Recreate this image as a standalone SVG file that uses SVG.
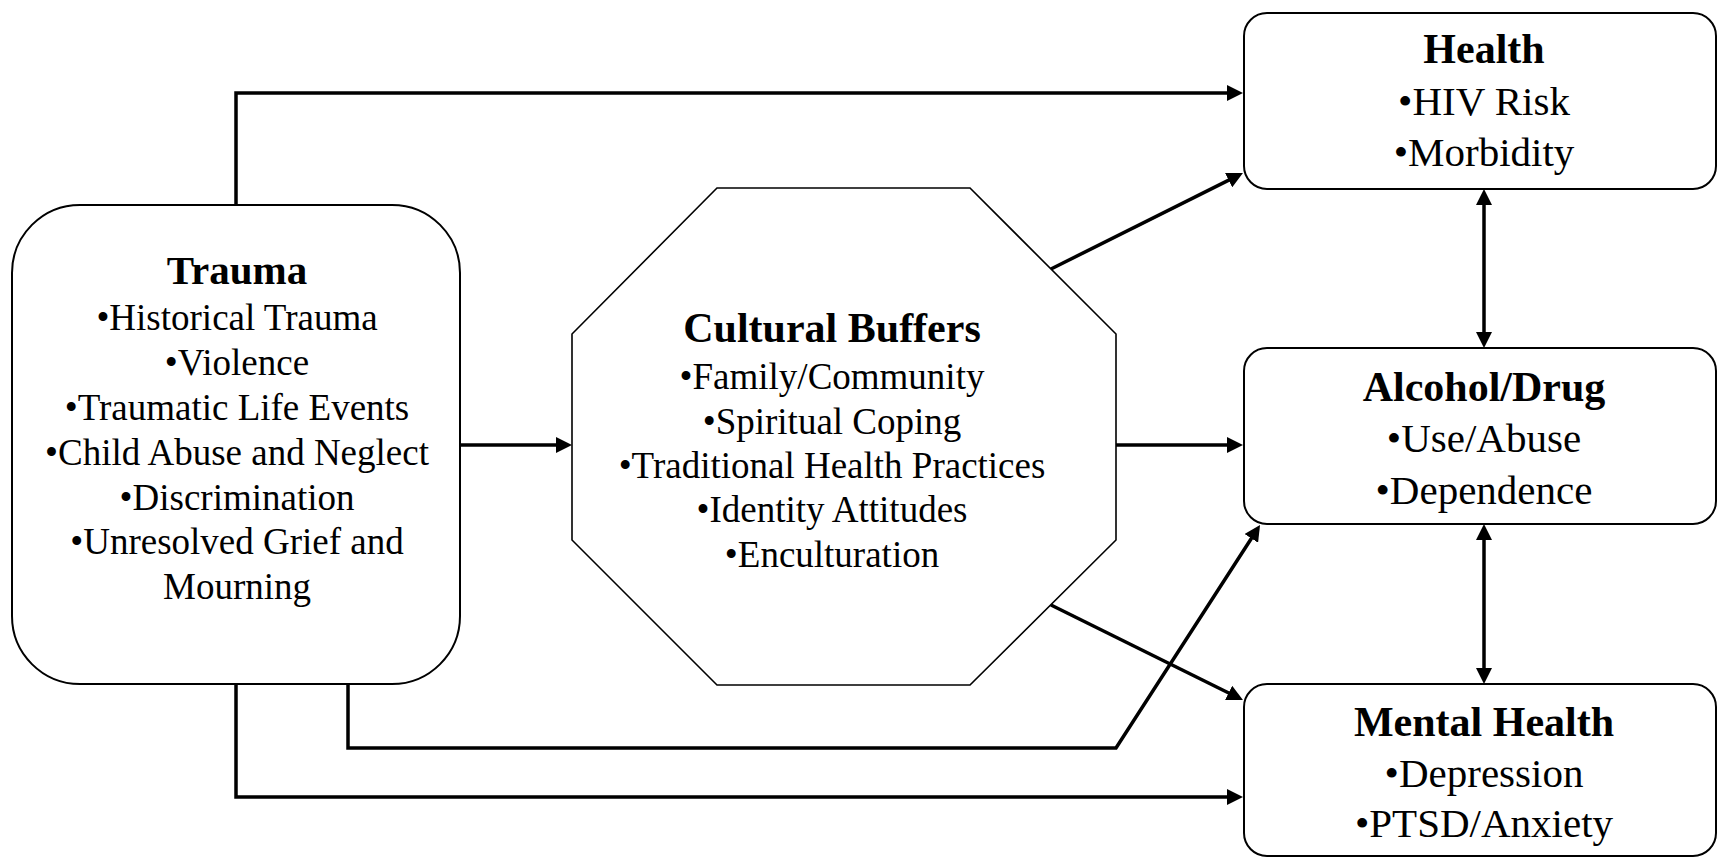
<svg xmlns="http://www.w3.org/2000/svg" width="1717" height="858" viewBox="0 0 1717 858">
<style>
.box{fill:#fff;stroke:#000;stroke-width:2}
.oct{fill:#fff;stroke:#000;stroke-width:1.6}
.conn{fill:none;stroke:#000;stroke-width:3.5;stroke-linejoin:miter}
text{font-family:"Liberation Serif","Times New Roman",serif;fill:#000;text-anchor:middle}
.t{font-weight:bold}
.l{font-size:37px}
.tl{font-size:41px}
.r{font-size:41px}
.tr{font-size:42px}
</style>
<defs>
<marker id="ah" markerUnits="userSpaceOnUse" markerWidth="16" markerHeight="16" refX="8" refY="8" orient="auto-start-reverse" viewBox="0 0 16 16">
<path d="M0,0 L16,8 L0,16 Z" fill="#000"/>
</marker>
</defs>
<rect width="1717" height="858" fill="#fff"/>
<g id="connectors">
<path class="conn" d="M236,205 V93 H1235" marker-end="url(#ah)"/>
<path class="conn" d="M460,445 H564" marker-end="url(#ah)"/>
<path class="conn" d="M1116,445 H1235" marker-end="url(#ah)"/>
<path class="conn" d="M1051,269 L1235.8,176.6" marker-end="url(#ah)"/>
<path class="conn" d="M1051,605 L1235.8,696.5" marker-end="url(#ah)"/>
<path class="conn" d="M348,684 V748 H1116 L1255.7,531.7" marker-end="url(#ah)"/>
<path class="conn" d="M236,684 V797 H1235" marker-end="url(#ah)"/>
<path class="conn" d="M1484,197 V340" marker-start="url(#ah)" marker-end="url(#ah)"/>
<path class="conn" d="M1484,532 V676" marker-start="url(#ah)" marker-end="url(#ah)"/>
</g>
<g id="trauma">
<rect class="box" x="12" y="205" width="448" height="479" rx="68" ry="68"/>
<text class="t tl" x="237" y="284">Trauma</text>
<text class="l" x="237" y="330">•Historical Trauma</text>
<text class="l" x="237" y="375">•Violence</text>
<text class="l" x="237" y="420">•Traumatic Life Events</text>
<text class="l" x="237" y="465">•Child Abuse and Neglect</text>
<text class="l" x="237" y="510">•Discrimination</text>
<text class="l" x="237" y="554">•Unresolved Grief and</text>
<text class="l" x="237" y="599">Mourning</text>
</g>
<g id="cultural-buffers">
<polygon class="oct" points="717,188 970,188 1116,334 1116,540 970,685 717,685 572,540 572,334"/>
<text class="t tr" x="832" y="342">Cultural Buffers</text>
<text class="l" x="832" y="389">•Family/Community</text>
<text class="l" x="832" y="434">•Spiritual Coping</text>
<text class="l" x="832" y="478">•Traditional Health Practices</text>
<text class="l" x="832" y="522">•Identity Attitudes</text>
<text class="l" x="832" y="567">•Enculturation</text>
</g>
<g id="health">
<rect class="box" x="1244" y="13" width="472" height="176" rx="23" ry="23"/>
<text class="t tr" x="1484" y="63">Health</text>
<text class="r" x="1484" y="115">•HIV Risk</text>
<text class="r" x="1484" y="166">•Morbidity</text>
</g>
<g id="alcohol-drug">
<rect class="box" x="1244" y="348" width="472" height="176" rx="23" ry="23"/>
<text class="t tr" x="1484" y="401">Alcohol/Drug</text>
<text class="r" x="1484" y="452">•Use/Abuse</text>
<text class="r" x="1484" y="504">•Dependence</text>
</g>
<g id="mental-health">
<rect class="box" x="1244" y="684" width="472" height="172" rx="23" ry="23"/>
<text class="t tr" x="1484" y="736">Mental Health</text>
<text class="r" x="1484" y="787">•Depression</text>
<text class="r" x="1484" y="837">•PTSD/Anxiety</text>
</g>
</svg>
